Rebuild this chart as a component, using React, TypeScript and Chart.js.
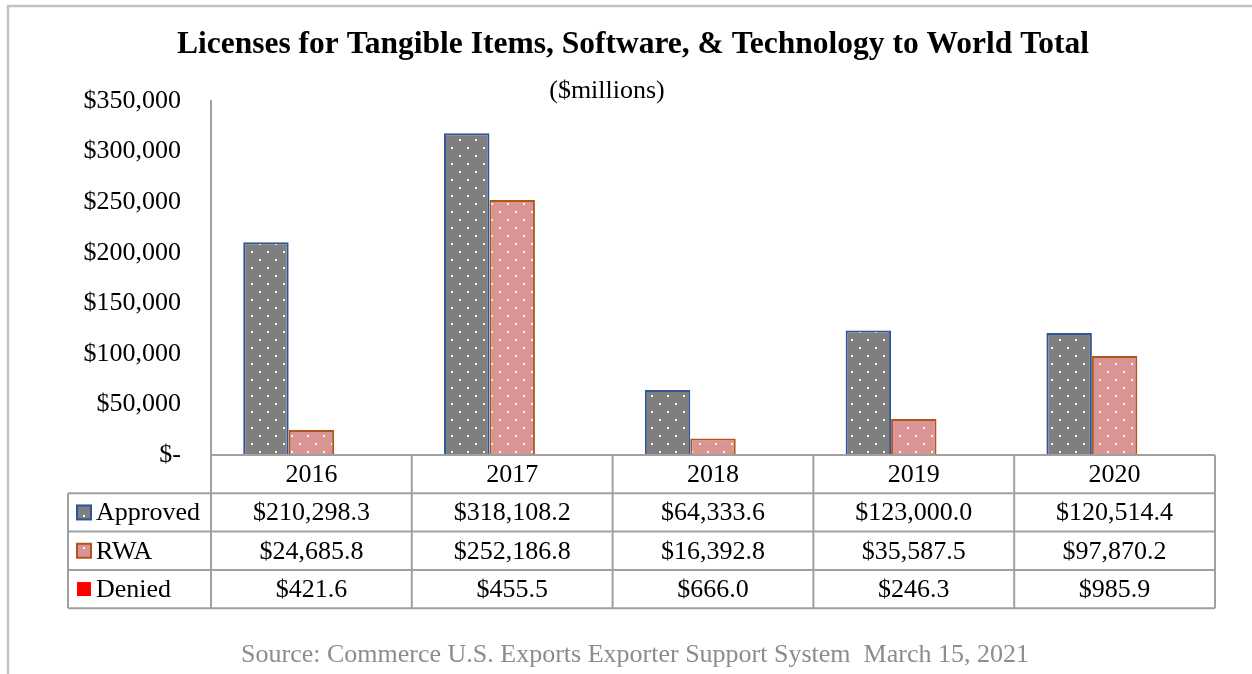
import React, { useEffect, useRef } from "react";
import { Chart, registerables } from "chart.js";

Chart.register(...registerables);

const years = ["2016", "2017", "2018", "2019", "2020"];
const seriesNames = ["Approved", "RWA", "Denied"];
const approved = [210298.3, 318108.2, 64333.6, 123000.0, 120514.4];
const rwa = [24685.8, 252186.8, 16392.8, 35587.5, 97870.2];
const denied = [421.6, 455.5, 666.0, 246.3, 985.9];
const yMin = 0;
const yMax = 350000;
const yStep = 50000;

const titleText = "Licenses for Tangible Items, Software, & Technology to World Total";
const subtitleText = "($millions)";
const sourceText = "Source: Commerce U.S. Exports Exporter Support System  March 15, 2021";

const SERIF = "'Liberation Serif', 'Times New Roman', serif";
const approvedFill = "#7F7F7F";
const approvedBorder = "#2F5597";
const rwaFill = "#D99594";
const rwaBorder = "#B0561B";
const deniedFill = "#FF0000";
const gridGray = "#A0A0A0";

function makePattern(bg: string): CanvasPattern | string {
  const c = document.createElement("canvas");
  c.width = 16;
  c.height = 16;
  const g = c.getContext("2d");
  if (!g) return bg;
  g.fillStyle = bg;
  g.fillRect(0, 0, 16, 16);
  g.fillStyle = "rgba(255,255,255,0.95)";
  g.fillRect(3, 3, 2, 2);
  g.fillRect(11, 11, 2, 2);
  const p = g.createPattern(c, "repeat");
  return p || bg;
}

function fmtMoney(v: number): string {
  return "$" + v.toLocaleString("en-US", { minimumFractionDigits: 1, maximumFractionDigits: 1 });
}

export default function App() {
  const ref = useRef<HTMLCanvasElement | null>(null);

  useEffect(() => {
    const canvas = ref.current;
    if (!canvas) return;
    const apPat = makePattern(approvedFill);
    const rwPat = makePattern(rwaFill);

    const decor = {
      id: "decor",
      beforeDraw(chart: any) {
        const ctx = chart.ctx;
        ctx.save();
        ctx.fillStyle = "#ffffff";
        ctx.fillRect(0, 0, chart.width, chart.height);
        ctx.strokeStyle = "#C4C4C4";
        ctx.lineWidth = 2.5;
        ctx.beginPath();
        ctx.moveTo(8, chart.height + 5);
        ctx.lineTo(8, 6);
        ctx.lineTo(chart.width + 5, 6);
        ctx.stroke();
        ctx.restore();
      },
      afterDraw(chart: any) {
        const ctx = chart.ctx;
        const xs = chart.scales.x;
        const area = chart.chartArea;
        ctx.save();
        // title
        ctx.fillStyle = "#000";
        ctx.textAlign = "center";
        ctx.textBaseline = "middle";
        ctx.font = `bold 31.5px ${SERIF}`;
        ctx.fillText(titleText, 633, 45);
        ctx.font = `26px ${SERIF}`;
        ctx.fillText(subtitleText, 607, 91);

        // table
        const n = years.length;
        const half = (xs.getPixelForValue(1) - xs.getPixelForValue(0)) / 2;
        const left = area.left;
        const right = area.right;
        const top = area.bottom;
        const rowH = 38.3;
        const legendLeft = 68;
        ctx.strokeStyle = gridGray;
        ctx.lineWidth = 2;
        ctx.beginPath();
        ctx.moveTo(left, top);
        ctx.lineTo(right, top);
        for (let r = 1; r <= 4; r++) {
          const y = top + r * rowH;
          ctx.moveTo(legendLeft, y);
          ctx.lineTo(right, y);
        }
        for (let i = 0; i <= n; i++) {
          const x = i < n ? xs.getPixelForValue(i) - half : xs.getPixelForValue(n - 1) + half;
          ctx.moveTo(x, top);
          ctx.lineTo(x, top + 4 * rowH);
        }
        ctx.moveTo(legendLeft, top + rowH);
        ctx.lineTo(legendLeft, top + 4 * rowH);
        ctx.stroke();

        ctx.fillStyle = "#000";
        ctx.font = `26px ${SERIF}`;
        ctx.textAlign = "center";
        const rows = [approved, rwa, denied];
        for (let i = 0; i < n; i++) {
          const cx = xs.getPixelForValue(i);
          ctx.fillText(years[i], cx, top + rowH / 2 + 1);
          for (let r = 0; r < 3; r++) {
            ctx.fillText(fmtMoney(rows[r][i]), cx, top + (r + 1.5) * rowH + 1);
          }
        }
        const keys = [
          { fill: apPat, border: approvedBorder },
          { fill: rwPat, border: rwaBorder },
          { fill: deniedFill, border: null },
        ];
        ctx.textAlign = "left";
        for (let r = 0; r < 3; r++) {
          const cy = top + (r + 1.5) * rowH;
          const k = keys[r];
          ctx.fillStyle = k.fill as any;
          ctx.fillRect(77, cy - 7, 14, 14);
          if (k.border) {
            ctx.strokeStyle = k.border;
            ctx.lineWidth = 2;
            ctx.strokeRect(77, cy - 7, 14, 14);
          }
          ctx.fillStyle = "#000";
          ctx.fillText(seriesNames[r], 96, cy + 1);
        }

        // source
        ctx.fillStyle = "#8C8C8C";
        ctx.textAlign = "center";
        ctx.font = `26px ${SERIF}`;
        ctx.fillText(sourceText, 635, 655);
        ctx.restore();
      },
    };

    const chart = new Chart(canvas, {
      type: "bar",
      data: {
        labels: years,
        datasets: [
          {
            label: seriesNames[0],
            data: approved,
            backgroundColor: apPat as any,
            borderColor: approvedBorder,
            borderWidth: 2,
          },
          {
            label: seriesNames[1],
            data: rwa,
            backgroundColor: rwPat as any,
            borderColor: rwaBorder,
            borderWidth: 2,
          },
          {
            label: seriesNames[2],
            data: denied,
            backgroundColor: deniedFill,
            borderWidth: 0,
          },
        ],
      },
      options: {
        responsive: false,
        animation: false,
        datasets: { bar: { categoryPercentage: 0.679, barPercentage: 1 } },
        layout: { padding: { top: 101, bottom: 674 - 455, left: 0, right: 1252 - 1215 } },
        plugins: { legend: { display: false }, tooltip: { enabled: false }, title: { display: false } },
        scales: {
          x: { display: false, grid: { display: false } },
          y: {
            min: yMin,
            max: yMax,
            ticks: {
              stepSize: yStep,
              padding: 30,
              color: "#000",
              font: { family: SERIF, size: 26 },
              callback: (v: any) => (Number(v) === 0 ? "$-" : "$" + Number(v).toLocaleString("en-US")),
            },
            grid: { display: false, drawTicks: false },
            border: { display: true, color: gridGray, width: 2 },
            afterFit: (s: any) => {
              s.width = 211;
            },
          },
        },
      },
      plugins: [decor],
    });
    return () => chart.destroy();
  }, []);

  return (
    <div style={{ position: "absolute", left: 0, top: 0, width: 1252, height: 674 }}>
      <canvas ref={ref} width={1252} height={674} style={{ display: "block" }} />
    </div>
  );
}
